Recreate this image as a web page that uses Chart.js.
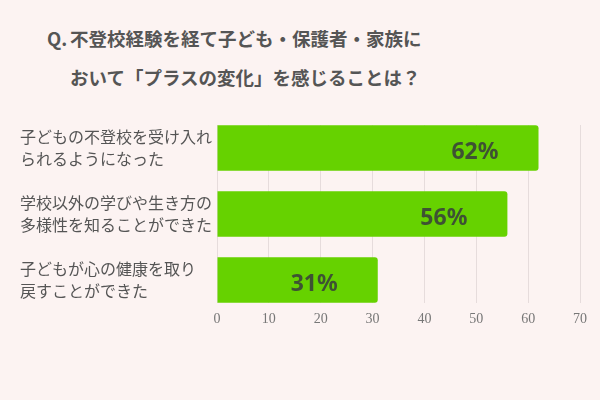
<!DOCTYPE html>
<html lang="ja">
<head>
<meta charset="utf-8">
<script src="https://cdn.jsdelivr.net/npm/chart.js@4"></script>
<style>
  html, body { margin: 0; padding: 0; background: #fcf3f2; }
  #wrap { position: relative; width: 600px; height: 400px; overflow: hidden; }
  #chart { position: absolute; left: 0; top: 0; }
  .title { position: absolute; font-family: "Noto Sans CJK JP", sans-serif; font-weight: bold;
           font-size: 18.5px; line-height: 39px; color: #555; white-space: nowrap; }
</style>
</head>
<body>
<div id="wrap">
  <div class="title" style="left:47px; top:19px;">Q.</div>
  <div class="title" style="left:70px; top:19px;">不登校経験を経て子ども・保護者・家族に<br>おいて「プラスの変化」を感じることは？</div>
  <canvas id="chart" width="600" height="400"></canvas>
</div>
<script>
// answers, top to bottom
const categories = [
  ['子どもの不登校を受け入れ', 'られるようになった'],
  ['学校以外の学びや生き方の', '多様性を知ることができた'],
  ['子どもが心の健康を取り', '戻すことができた']
];
const percents = [62, 56, 31];
const xTicks = [0, 10, 20, 30, 40, 50, 60, 70];

// percentage written inside the end of each bar
const valueLabels = {
  id: 'valueLabels',
  afterDatasetsDraw(chart) {
    const ctx = chart.ctx;
    const meta = chart.getDatasetMeta(0);
    ctx.save();
    ctx.font = 'bold 23px "Noto Sans", sans-serif';
    ctx.fillStyle = '#3e5233';
    ctx.textAlign = 'right';
    ctx.textBaseline = 'middle';
    meta.data.forEach(function(bar, i) {
      ctx.fillText(percents[i] + '%', bar.x - 40, bar.y + 4);
    });
    ctx.restore();
  }
};

const ctx = document.getElementById('chart').getContext('2d');
const myBarChart = new Chart(ctx, {
  type: 'bar',
  data: {
    datasets: [{
      data: percents.map(function(v, i) { return { x: v, y: i }; }),
      backgroundColor: '#66d200',
      borderRadius: 3,
      barPercentage: 1,
      categoryPercentage: 0.69
    }]
  },
  options: {
    indexAxis: 'y',
    responsive: false,
    animation: false,
    layout: { padding: { left: 20, right: 20, top: 125, bottom: 64 } },
    plugins: {
      legend: { display: false },
      tooltip: { enabled: false }
    },
    scales: {
      x: {
        min: 0,
        max: 70,
        afterBuildTicks: function(s) { s.ticks = xTicks.map(function(v) { return { value: v }; }); },
        grid: { color: '#e6dcdc', drawTicks: false },
        border: { display: false },
        ticks: {
          padding: 8,
          color: '#777',
          font: { family: '"Liberation Serif", serif', size: 14 }
        }
      },
      y: {
        type: 'linear',
        reverse: true,
        offset: false,
        bounds: 'data',
        min: -0.35,
        max: 2.35,
        afterBuildTicks: function(s) {
          s.ticks = categories.map(function(c, i) { return { value: i }; });
        },
        afterFit: function(s) { s.width = 197; },
        grid: { display: false },
        border: { display: false },
        ticks: {
          crossAlign: 'far',
          color: '#555',
          font: { family: '"Noto Sans CJK JP", sans-serif', size: 16, lineHeight: 1.375 },
          callback: function(value) { return categories[value]; }
        }
      }
    }
  },
  plugins: [valueLabels]
});
</script>
</body>
</html>
